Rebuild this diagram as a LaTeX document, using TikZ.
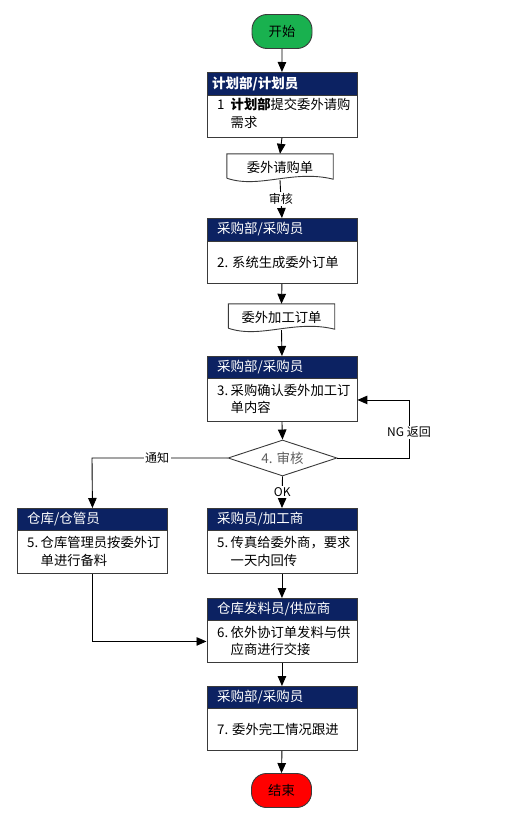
\documentclass[tikz,border=0pt]{standalone}
\usepackage{fontspec}
\setmainfont{Noto Sans CJK SC}
\usetikzlibrary{arrows.meta,shapes.geometric,calc}
\definecolor{navy}{HTML}{0C2262}
\definecolor{startgreen}{HTML}{19B14F}
\definecolor{endred}{HTML}{FF0000}
\definecolor{edge}{HTML}{3A3A3A}
\tikzset{
  hdr/.style={draw=edge, line width=0.9pt, fill=navy, text=white, minimum width=150pt, minimum height=23pt, inner sep=0pt, anchor=north west},
  bodybox/.style={draw=edge, line width=0.9pt, fill=white, minimum width=150pt, inner sep=0pt, anchor=north west},
  bodytxt/.style={anchor=west, align=left, inner sep=0pt, font=\fontsize{13.3}{17.5}\selectfont},
  hdrtxt/.style={anchor=west, inner sep=0pt, text=white, font=\fontsize{13.5}{15}\selectfont},
  term/.style={draw=edge, line width=0.9pt, rounded corners=15pt, minimum width=60pt, minimum height=34pt, inner sep=0pt, font=\fontsize{13.3}{15}\selectfont},
  docnode/.style={minimum width=106pt, minimum height=26pt, inner sep=0pt, font=\fontsize{13.3}{15}\selectfont},
  conn/.style={draw=black, line width=0.9pt, -{Triangle[length=10pt,width=8.5pt]}},
  lbl/.style={fill=white, inner sep=1.5pt, font=\fontsize{12}{14}\selectfont},
}
\newcommand{\hang}[2]{\makebox[13.5pt][l]{#1}#2}
\begin{document}
\begin{tikzpicture}[x=1pt,y=-1pt]
\useasboundingbox (0,0) rectangle (527,816);
% start / end
\node[term, fill=startgreen] (start) at (282,31.5) {开始};
\node[term, fill=endred] (end) at (281.5,790.5) {结束};

% Box 1
\node[hdr] (h1) at (206.5,72) {};
\node[bodybox, minimum height=42pt] (b1) at (206.5,95) {};
\node[hdrtxt] at (212,83.5) {\bfseries 计划部/计划员};
\node[bodytxt] at (217,113.5) {\hang{1}{{\bfseries 计划部}}提交委外请购\\\hspace*{13.5pt}需求};

% Doc 1
\node[docnode] (d1) at (280,167) {委外请购单};
\draw[draw=edge, line width=0.9pt, fill=white] ($(d1.south west)+(0,-2)$) -- (d1.north west) -- (d1.north east) -- ($(d1.south east)+(0,-1)$)
  .. controls ($(d1.south east)+(-40,-11)$) and ($(d1.south west)+(32,9)$) .. ($(d1.south west)+(0,-2)$);
\node[docnode] at (280,167) {委外请购单};

% Box 2
\node[hdr] (h2) at (206.5,218) {};
\node[bodybox, minimum height=42pt] (b2) at (206.5,241) {};
\node[hdrtxt] at (217,229.5) {采购部/采购员};
\node[bodytxt] at (217,262) {2. 系统生成委外订单};

% Doc 2
\node[docnode] (d2) at (281.5,317) {委外加工订单};
\draw[draw=edge, line width=0.9pt, fill=white] ($(d2.south west)+(0,-2)$) -- (d2.north west) -- (d2.north east) -- ($(d2.south east)+(0,-1)$)
  .. controls ($(d2.south east)+(-40,-11)$) and ($(d2.south west)+(32,9)$) .. ($(d2.south west)+(0,-2)$);
\node[docnode] at (281.5,317) {委外加工订单};

% Box 3
\node[hdr] (h3) at (206.5,356) {};
\node[bodybox, minimum height=43pt] (b3) at (206.5,378) {};
\node[hdrtxt] at (217,367) {采购部/采购员};
\node[bodytxt] at (217,399) {\hang{3.}{采购确认委外加工订}\\\hspace*{13.5pt}单内容};

% Decision
\node[diamond, draw=edge, line width=0.9pt, fill=white, minimum width=109pt, minimum height=36pt, inner sep=0pt, aspect=3, text=gray!75!black, font=\fontsize{13.5}{15}\selectfont] (dec) at (282.5,458) {4. 审核};

% Box 4
\node[hdr] (h4) at (17,508) {};
\node[bodybox, minimum height=43pt] (b4) at (17,530) {};
\node[hdrtxt] at (27,519) {仓库/仓管员};
\node[bodytxt] at (27,551.5) {\hang{5.}{仓库管理员按委外订}\\\hspace*{13.5pt}单进行备料};

% Box 5
\node[hdr] (h5) at (206.5,508) {};
\node[bodybox, minimum height=43pt] (b5) at (206.5,530) {};
\node[hdrtxt] at (217,519) {采购员/加工商};
\node[bodytxt] at (217,551.5) {\hang{5.}{传真给委外商，要求}\\\hspace*{13.5pt}一天内回传};

% Box 6
\node[hdr] (h6) at (206.5,598) {};
\node[bodybox, minimum height=42pt] (b6) at (206.5,620) {};
\node[hdrtxt] at (217,609) {仓库发料员/供应商};
\node[bodytxt] at (217,641) {\hang{6.}{依外协订单发料与供}\\\hspace*{13.5pt}应商进行交接};

% Box 7
\node[hdr] (h7) at (206.5,686) {};
\node[bodybox, minimum height=42pt] (b7) at (206.5,708) {};
\node[hdrtxt] at (217,697) {采购部/采购员};
\node[bodytxt] at (217,729) {7. 委外完工情况跟进};

% connectors
\coordinate (r1) at (409,458);
\coordinate (l1) at (92,458);
\draw[conn] (start) -- (h1.north);
\draw[conn] (b1.south) -- (d1.north);
\draw[conn] (d1.south) -- (h2.north) node[lbl, pos=0.5] {审核};
\draw[conn] (b2.south) -- (d2.north);
\draw[conn] (d2.south) -- (h3.north);
\draw[conn] (b3.south) -- (dec.north);
\draw[conn] (dec.east) -- (r1) |- (b3.east) node[lbl, pos=0.22] {NG 返回};
\draw[conn] (dec.west) -- (l1) node[lbl, pos=0.52] {通知} -- (h4.north);
\draw[conn] (dec.south) -- (h5.north) node[lbl, pos=0.5] {OK};
\draw[conn] (b4.south) |- (b6.west);
\draw[conn] (b5.south) -- (h6.north);
\draw[conn] (b6.south) -- (h7.north);
\draw[conn] (b7.south) -- (end.north);
\end{tikzpicture}
\end{document}
